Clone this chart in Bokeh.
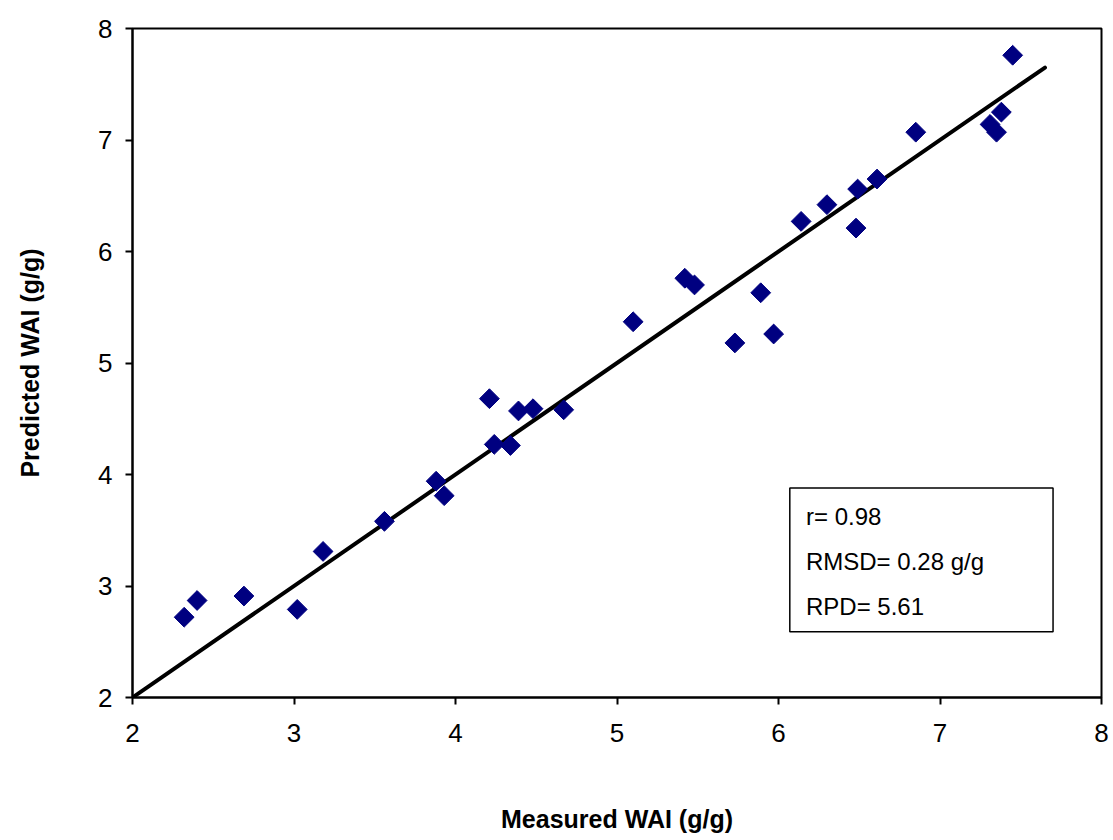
import math
from bokeh.plotting import figure
from bokeh.models import Label, Range1d, FixedTicker
from bokeh.embed import file_html
from bokeh.resources import INLINE

measured = [2.32, 2.40, 2.69, 3.02, 3.18, 3.56, 3.88, 3.93, 4.21, 4.24, 4.34, 4.39, 4.48, 4.67,
            5.10, 5.42, 5.48, 5.73, 5.89, 5.97, 6.14, 6.30, 6.49, 6.48, 6.61, 6.85, 7.31, 7.35, 7.38, 7.45]
predicted = [2.72, 2.87, 2.91, 2.79, 3.31, 3.58, 3.94, 3.81, 4.68, 4.27, 4.26, 4.57, 4.59, 4.58,
             5.37, 5.76, 5.70, 5.18, 5.63, 5.26, 6.27, 6.42, 6.56, 6.21, 6.65, 7.07, 7.14, 7.07, 7.25, 7.76]
line_x = [2.0, 7.65]
line_y = [2.0, 7.65]
ticks = [2, 3, 4, 5, 6, 7, 8]
stats_box = dict(left=6.07, right=7.70, bottom=2.59, top=3.88)
stats_text = ["r= 0.98", "RMSD= 0.28 g/g", "RPD= 5.61"]
stats_y = [3.62, 3.22, 2.82]

FONT = "Liberation Sans"

p = figure(width=1113, height=840, output_backend="svg", toolbar_location=None,
           x_range=Range1d(2, 8), y_range=Range1d(2, 8),
           min_border_left=132, min_border_right=12, min_border_top=28, min_border_bottom=143)
p.xgrid.visible = False
p.ygrid.visible = False
p.outline_line_color = "black"
p.outline_line_width = 2
p.background_fill_color = "white"
p.border_fill_color = "white"

for ax in (p.xaxis[0], p.yaxis[0]):
    ax.ticker = FixedTicker(ticks=ticks)
    ax.minor_tick_line_color = None
    ax.axis_line_width = 2
    ax.axis_line_color = "black"
    ax.major_tick_line_width = 2
    ax.major_tick_line_color = "black"
    ax.major_tick_out = 7
    ax.major_tick_in = 0
    ax.major_label_text_font = FONT
    ax.major_label_text_font_size = "26px"
    ax.major_label_text_color = "black"
    ax.axis_label_text_font = FONT
    ax.axis_label_text_font_size = "25px"
    ax.axis_label_text_font_style = "bold"
    ax.axis_label_text_color = "black"

p.xaxis[0].axis_label = "Measured WAI (g/g)"
p.xaxis[0].major_label_standoff = 19
p.xaxis[0].axis_label_standoff = 60
p.yaxis[0].axis_label = "Predicted WAI (g/g)"
p.yaxis[0].major_label_standoff = 13
p.yaxis[0].axis_label_standoff = 51

p.line(line_x, line_y, line_color="black", line_width=4, line_cap="round")
p.scatter(measured, predicted, marker="square", size=14, angle=math.pi / 4,
          fill_color="#000080", line_color="#000080", line_width=1)

p.quad(left=[stats_box["left"]], right=[stats_box["right"]], bottom=[stats_box["bottom"]],
       top=[stats_box["top"]], fill_color="white", line_color="black", line_width=1.5)
for t, yy in zip(stats_text, stats_y):
    p.add_layout(Label(x=6.17, y=yy, text=t, text_font=FONT, text_font_size="24px",
                       text_color="black", text_baseline="middle", text_align="left"))

open("out.html", "w").write(file_html(p, INLINE))
